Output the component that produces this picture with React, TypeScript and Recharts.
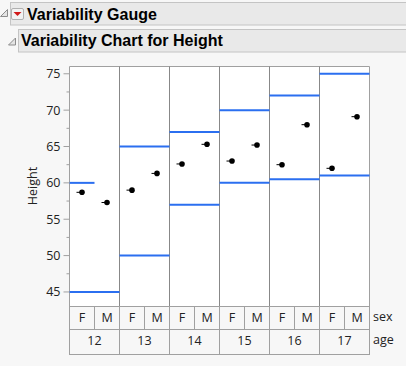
import React from 'react';
import {
  ComposedChart,
  XAxis,
  YAxis,
  Scatter,
  ReferenceLine,
  ReferenceArea,
  CartesianGrid,
} from 'recharts';

// ---- data ----
const ages = ['12', '13', '14', '15', '16', '17'];
const sexes = ['F', 'M'];
// cell means, ordered age-major: 12F, 12M, 13F, 13M, ...
const cellMeans = [58.7, 57.3, 59.0, 61.3, 62.6, 65.3, 63.0, 65.2, 62.5, 68.0, 62.0, 69.1];
// range lines drawn over each cell (null = none drawn)
const cellUpper = [60, null, 65, 65, 67, 67, 70, 70, 72, 72, 75, 75];
const cellLower = [45, 45, 50, 50, 57, 57, 60, 60, 60.5, 60.5, 61, 61];
const yTicks = [45, 47.5, 50, 52.5, 55, 57.5, 60, 62.5, 65, 67.5, 70, 72.5, 75];
const yLabelTicks = [45, 50, 55, 60, 65, 70, 75];
const yDomain = [43, 76];

// ---- derived ----
const cells = ages.flatMap((age) => sexes.map((sex) => ({ age, sex })));
const meanData = cells.map((c, i) => ({ x: i + 0.5, y: cellMeans[i], ...c }));
const cellTicks = cells.map((_, i) => i + 0.5);
const groupDividers = ages.slice(1).map((_, i) => (i + 1) * sexes.length);

// merge consecutive cells with the same level into one segment
const toRuns = (vals: (number | null)[]) => {
  const runs: { from: number; to: number; y: number }[] = [];
  vals.forEach((v, i) => {
    if (v == null) return;
    const last = runs[runs.length - 1];
    if (last && last.to === i && last.y === v) last.to = i + 1;
    else runs.push({ from: i, to: i + 1, y: v });
  });
  return runs;
};
const rangeRuns = [...toRuns(cellUpper), ...toRuns(cellLower)];

const BLUE = '#2b6ff0';
const FRAME = '#a0a0a0';
const TEXT = '#222';
const FONT = '"Open Sans", "Noto Sans", sans-serif';
const TITLE_FONT = '"Liberation Sans", Arial, sans-serif';
const CELL_W = 25;
const ROW1_H = 23;
const ROW2_H = 25;

const YTick = (props: any) => {
  const { x, y, payload } = props;
  const v = payload.value;
  const major = yLabelTicks.includes(v);
  return (
    <g>
      <line x1={x - (major ? 6 : 3)} x2={x} y1={y} y2={y} stroke={FRAME} strokeWidth={1} />
      {major && (
        <text x={x - 9} y={y} dy="0.36em" textAnchor="end" fontSize={12.5} fill={TEXT} fontFamily={FONT}>
          {v}
        </text>
      )}
    </g>
  );
};

const CellTick = (props: any) => {
  const { x, y, payload } = props;
  const i = Math.floor(payload.value);
  const si = i % sexes.length;
  const gi = Math.floor(i / sexes.length);
  const groupW = CELL_W * sexes.length;
  return (
    <g>
      <rect x={x - CELL_W / 2} y={y} width={CELL_W} height={ROW1_H} fill="none" stroke={FRAME} />
      <text x={x} y={y + 15.5} textAnchor="middle" fontSize={12.5} fill={TEXT} fontFamily={FONT}>
        {cells[i].sex}
      </text>
      {si === 0 && (
        <g>
          <rect
            x={x - CELL_W / 2}
            y={y + ROW1_H}
            width={groupW}
            height={ROW2_H}
            fill="none"
            stroke={FRAME}
          />
          <text
            x={x - CELL_W / 2 + groupW / 2}
            y={y + ROW1_H + 15.5}
            textAnchor="middle"
            fontSize={12.5}
            fill={TEXT}
            fontFamily={FONT}
          >
            {ages[gi]}
          </text>
        </g>
      )}
    </g>
  );
};

const MeanDot = (props: any) => {
  const { cx, cy } = props;
  return (
    <g>
      <line x1={cx - 5.5} x2={cx} y1={cy} y2={cy} stroke="#000" strokeWidth={1} />
      <circle cx={cx} cy={cy} r={2.8} fill="#000" />
    </g>
  );
};

const Disclosure = ({ x, y }: { x: number; y: number }) => (
  <polygon
    points={`${x + 7},${y} ${x + 7},${y + 7} ${x},${y + 7}`}
    fill="#e4e4e4"
    stroke="#8c8c8c"
    strokeWidth={1}
  />
);

export default function App() {
  return (
    <div
      style={{
        position: 'absolute',
        left: 0,
        top: 0,
        width: 406,
        height: 366,
        background: '#f7f7f7',
        overflow: 'hidden',
      }}
    >
      <svg width={406} height={366} style={{ position: 'absolute', left: 0, top: 0 }}>
        {/* header 1 */}
        <rect x={10.5} y={2.5} width={420} height={22.5} fill="#e9e9e9" stroke="#c4c4c4" />
        <Disclosure x={0.5} y={9.5} />
        <rect x={11.5} y={8.5} width={12} height={11} fill="#f2f2f2" stroke="#b0b0b0" rx={1.5} />
        <polygon points="13.5,12 21.5,12 17.5,16" fill="#d01818" />
        <text x={27} y={19.5} fontSize={16} fontWeight="bold" fill="#000" fontFamily={TITLE_FONT}>
          Variability Gauge
        </text>
        {/* header 2 */}
        <rect x={18.5} y={29.5} width={420} height={22.5} fill="#e9e9e9" stroke="#c4c4c4" />
        <Disclosure x={8.5} y={38} />
        <text x={21} y={45.5} fontSize={16} fontWeight="bold" fill="#000" fontFamily={TITLE_FONT}>
          Variability Chart for Height
        </text>
        {/* y axis title */}
        <text
          x={33}
          y={186}
          transform="rotate(-90 33 186)"
          dy="0.35em"
          textAnchor="middle"
          fontSize={12.5}
          fill={TEXT}
          fontFamily={FONT}
        >
          Height
        </text>
        {/* factor names */}
        <text x={373} y={321} fontSize={12.5} fill={TEXT} fontFamily={FONT}>sex</text>
        <text x={373} y={344} fontSize={12.5} fill={TEXT} fontFamily={FONT}>age</text>
      </svg>
      <div style={{ position: 'absolute', left: 0, top: 0 }}>
        <ComposedChart
          width={406}
          height={366}
          margin={{ top: 66.5, right: 36.5, bottom: 11.5, left: 20 }}
        >
          <CartesianGrid fill="#ffffff" horizontal={false} vertical={false} />
          <XAxis
            type="number"
            dataKey="x"
            domain={[0, cells.length]}
            ticks={cellTicks}
            interval={0}
            height={ROW1_H + ROW2_H}
            axisLine={false}
            tickLine={false}
            tickSize={0}
            tickMargin={0}
            tick={<CellTick />}
            allowDataOverflow
          />
          <YAxis
            type="number"
            dataKey="y"
            domain={yDomain}
            ticks={yTicks}
            interval={0}
            width={49.5}
            axisLine={false}
            tickLine={false}
            tickSize={0}
            tickMargin={0}
            tick={<YTick />}
            allowDataOverflow
          />
          {groupDividers.map((d) => (
            <ReferenceLine key={'d' + d} x={d} stroke="#888888" strokeWidth={1} />
          ))}
          {rangeRuns.map((r, i) => (
            <ReferenceLine
              key={'r' + i}
              segment={[{ x: r.from, y: r.y }, { x: r.to, y: r.y }]}
              stroke={BLUE}
              strokeWidth={2}
            />
          ))}
          <ReferenceArea
            x1={0}
            x2={cells.length}
            y1={yDomain[0]}
            y2={yDomain[1]}
            fill="none"
            stroke={FRAME}
            strokeWidth={1}
          />
          <Scatter data={meanData} dataKey="y" shape={<MeanDot />} isAnimationActive={false} />
        </ComposedChart>
      </div>
    </div>
  );
}
